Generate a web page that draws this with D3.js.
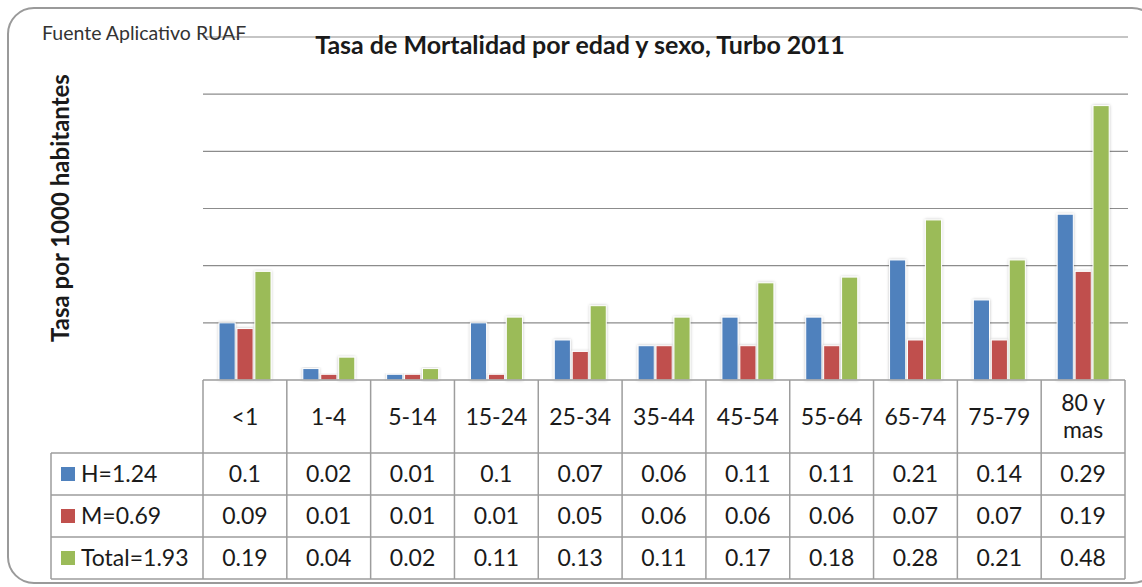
<!DOCTYPE html>
<html>
<head>
<meta charset="utf-8">
<script src="https://cdn.jsdelivr.net/npm/d3@7"></script>
<style>
  body { margin: 0; background: #fff; }
  text { font-family: Lato, "Open Sans", sans-serif; fill: #1a1a1a; }
</style>
</head>
<body>
<div id="canvas"></div>
<script>
// data
var categories = ["<1", "1-4", "5-14", "15-24", "25-34", "35-44", "45-54", "55-64", "65-74", "75-79", "80 y mas"];
var seriesNames = ["H=1.24", "M=0.69", "Total=1.93"];
var hombres = [0.1, 0.02, 0.01, 0.1, 0.07, 0.06, 0.11, 0.11, 0.21, 0.14, 0.29];
var mujeres = [0.09, 0.01, 0.01, 0.01, 0.05, 0.06, 0.06, 0.06, 0.07, 0.07, 0.19];
var total = [0.19, 0.04, 0.02, 0.11, 0.13, 0.11, 0.17, 0.18, 0.28, 0.21, 0.48];
var yTicks = [0, 0.1, 0.2, 0.3, 0.4, 0.5, 0.6];
var colors = ["#4F81BD", "#C0504D", "#9BBB59"];

var seriesValues = [hombres, mujeres, total];

drawChart();

function drawChart() {
  var width = 1142, height = 587;
  var svg = d3.select("#canvas").append("svg").attr("width", width).attr("height", height);

  var defs = svg.append("defs");
  var shadow = defs.append("filter").attr("id", "glow")
    .attr("x", "-30%").attr("y", "-10%").attr("width", "160%").attr("height", "120%");
  shadow.append("feGaussianBlur").attr("in", "SourceAlpha").attr("stdDeviation", 1.5).attr("result", "blur");
  shadow.append("feFlood").attr("flood-color", "#000").attr("flood-opacity", 0.25);
  shadow.append("feComposite").attr("in2", "blur").attr("operator", "in");
  var merge = shadow.append("feMerge");
  merge.append("feMergeNode");
  merge.append("feMergeNode").attr("in", "SourceGraphic");

  // outer frame
  svg.append("rect")
    .attr("x", 8).attr("y", 8).attr("width", 1150).attr("height", 575)
    .attr("rx", 26).attr("ry", 26)
    .attr("fill", "none").attr("stroke", "#9a9a9a").attr("stroke-width", 2);

  var left = 203, right = 1125, top = 37, base = 380;
  var x0 = d3.scaleBand().domain(categories).range([left, right]).padding(0);
  var x1 = d3.scaleBand().domain(seriesNames).range([16, 68]).paddingInner(0.1);
  var y = d3.scaleLinear().domain([0, 0.6]).range([base, top]);

  // gridlines (no tick labels, like the original)
  svg.append("g").selectAll("line.grid")
    .data(yTicks.slice(1))
    .enter().append("line")
    .attr("class", "grid")
    .attr("x1", left).attr("x2", right + 3)
    .attr("y1", d => y(d)).attr("y2", d => y(d))
    .attr("stroke", "#8c8c8c").attr("stroke-width", 1.2);

  // bars
  var groups = svg.append("g").selectAll("g.cat")
    .data(categories)
    .enter().append("g")
    .attr("class", "cat")
    .attr("transform", d => "translate(" + x0(d) + ",0)");

  groups.selectAll("rect")
    .data((d, i) => seriesNames.map((s, j) => ({ s: s, j: j, v: seriesValues[j][i] })))
    .enter().append("rect")
    .attr("x", d => x1(d.s))
    .attr("width", x1.bandwidth())
    .attr("y", d => y(d.v))
    .attr("height", d => base - y(d.v))
    .attr("fill", d => colors[d.j])
    .attr("stroke", "#fff").attr("stroke-width", 1)
    .attr("filter", "url(#glow)");

  // data table
  var lineColor = "#9d9d9d";
  var headerBottom = 453, rowH = 42;
  var table = svg.append("g");
  var tableLeft = 51;
  var tableBottom = headerBottom + rowH * 3;

  // column lines
  var colEdges = categories.map(c => x0(c)).concat([right]);
  table.selectAll("line.col")
    .data(colEdges)
    .enter().append("line")
    .attr("x1", d => d).attr("x2", d => d)
    .attr("y1", base).attr("y2", tableBottom)
    .attr("stroke", lineColor).attr("stroke-width", 1.5);
  table.append("line")
    .attr("x1", left).attr("x2", right).attr("y1", base).attr("y2", base)
    .attr("stroke", lineColor).attr("stroke-width", 1.5);
  table.append("line")
    .attr("x1", tableLeft).attr("x2", tableLeft).attr("y1", headerBottom).attr("y2", tableBottom)
    .attr("stroke", lineColor).attr("stroke-width", 1.5);
  table.selectAll("line.row")
    .data(d3.range(4))
    .enter().append("line")
    .attr("x1", tableLeft).attr("x2", right)
    .attr("y1", d => headerBottom + d * rowH).attr("y2", d => headerBottom + d * rowH)
    .attr("stroke", lineColor).attr("stroke-width", 1.5);

  // header labels
  var fs = 23;
  var header = table.selectAll("text.head")
    .data(categories)
    .enter().append("text")
    .attr("class", "head")
    .attr("text-anchor", "middle")
    .attr("font-size", fs)
    .attr("x", d => x0(d) + x0.bandwidth() / 2);
  header.each(function(d) {
    var words = d === "80 y mas" ? ["80 y", "mas"] : [d];
    var t = d3.select(this);
    var mid = (base + headerBottom) / 2;
    words.forEach((w, k) => {
      t.append("tspan")
        .attr("x", x0(d) + x0.bandwidth() / 2)
        .attr("y", mid + 8 + (k - (words.length - 1) / 2) * 27)
        .text(w);
    });
  });

  // rows
  seriesNames.forEach((s, j) => {
    var cy = headerBottom + rowH * j + rowH / 2;
    table.append("rect")
      .attr("x", 61).attr("y", cy - 7).attr("width", 14).attr("height", 14)
      .attr("fill", colors[j]);
    table.append("text")
      .attr("x", 81).attr("y", cy + 8)
      .attr("font-size", fs)
      .text(s);
    table.selectAll("text.v" + j)
      .data(seriesValues[j])
      .enter().append("text")
      .attr("class", "v" + j)
      .attr("text-anchor", "middle")
      .attr("font-size", fs)
      .attr("x", (d, i) => x0(categories[i]) + x0.bandwidth() / 2)
      .attr("y", cy + 8)
      .text(d => d);
  });

  // titles
  svg.append("text")
    .attr("x", 42).attr("y", 40)
    .attr("font-size", 19.5)
    .style("fill", "#333")
    .text("Fuente Aplicativo RUAF");

  svg.append("text")
    .attr("x", 580).attr("y", 54)
    .attr("text-anchor", "middle")
    .attr("font-size", 25)
    .attr("font-weight", "bold")
    .text("Tasa de Mortalidad  por edad y sexo, Turbo 2011");

  svg.append("text")
    .attr("transform", "translate(69,208) rotate(-90)")
    .attr("text-anchor", "middle")
    .attr("font-size", 24)
    .attr("font-weight", "bold")
    .text("Tasa por 1000 habitantes");
}
</script>
</body>
</html>
